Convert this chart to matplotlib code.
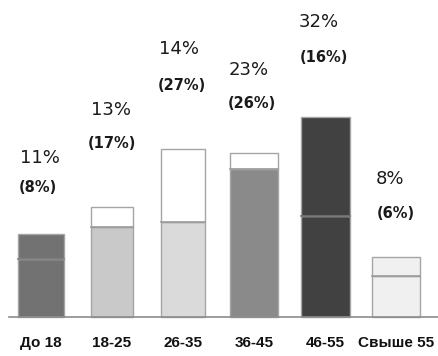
import matplotlib.pyplot as plt

# age groups and the two stacked parts of each bar
categories = ["До 18", "18-25", "26-35", "36-45", "46-55", "Свыше 55"]
lower = [58, 90, 95, 148, 101, 41]
upper = [25, 20, 73, 16, 99, 19]
main_labels = ["11%", "13%", "14%", "23%", "32%", "8%"]
sub_labels = ["(8%)", "(17%)", "(27%)", "(26%)", "(16%)", "(6%)"]

lower_colors = ["#727272", "#c9c9c9", "#dadada", "#8a8a8a", "#414141", "#f0f0f0"]
upper_colors = ["#727272", "#ffffff", "#ffffff", "#ffffff", "#414141", "#f0f0f0"]
split_colors = ["#7f7f7f", "#9c9c9c", "#9c9c9c", "#9c9c9c", "#727272", "#9c9c9c"]
widths = [0.65, 0.58, 0.61, 0.68, 0.69, 0.68]

# label placement (height of text centre above baseline, x shift)
main_y = [159, 207, 268, 247, 295, 138]
main_dx = [-0.02, -0.02, -0.05, -0.08, -0.09, -0.08]
sub_y = [130, 174, 231, 213, 260, 103]
sub_dx = [-0.04, 0.0, -0.02, -0.03, -0.02, 0.0]

fig = plt.figure(figsize=(4.38, 3.56), dpi=100)
ax = fig.add_axes([0, 0, 1, 1])
ax.set_xlim(-0.577, 5.59)
ax.set_ylim(-39, 317)
ax.axis("off")

x = range(len(categories))
ax.bar(x, lower, width=widths, color=lower_colors, edgecolor="#a5a5a5", linewidth=1.0, zorder=2)
ax.bar(x, upper, bottom=lower, width=widths, color=upper_colors, edgecolor="#a5a5a5", linewidth=1.0, zorder=2)
# line where the two parts meet
for i in x:
    ax.plot([i - widths[i] / 2, i + widths[i] / 2], [lower[i], lower[i]],
            color=split_colors[i], linewidth=1.2, zorder=3)

ax.axhline(0, xmin=0.02, xmax=1, color="#8c8c8c", linewidth=1.2, zorder=3)

for i in x:
    ax.text(i + main_dx[i], main_y[i], main_labels[i], ha="center", va="center",
            fontsize=13, color="#1a1a1a", family="DejaVu Sans")
    ax.text(i + sub_dx[i], sub_y[i], sub_labels[i], ha="center", va="center",
            fontsize=10.5, fontweight="bold", color="#1a1a1a", family="DejaVu Sans")
    ax.text(i, -26, categories[i], ha="center", va="center", fontsize=11,
            fontweight="bold", color="#111111",
            family=["Liberation Sans Narrow", "Liberation Sans", "DejaVu Sans"])

fig.savefig("out.png", dpi=100)
